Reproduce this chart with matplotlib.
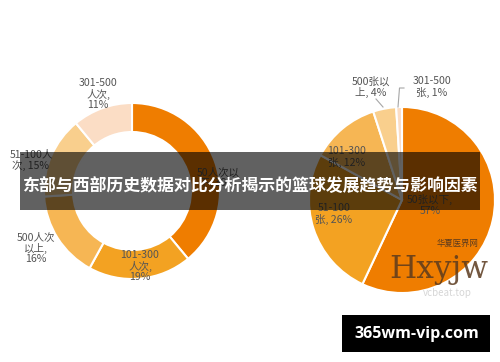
import matplotlib
matplotlib.use("Agg")
import matplotlib.pyplot as plt
from matplotlib.patches import Rectangle

plt.rcParams['font.family'] = ['Noto Sans CJK SC', 'DejaVu Sans']

# left donut: audience size per game (人次)
left_labels = ['50人次以\n下, 39%', '101-300\n人次,\n19%', '500人次\n以上,\n16%',
               '51-100人\n次, 15%', '301-500\n人次,\n11%']
left_values = [39, 19, 16, 15, 11]

# right pie: tickets (张)
right_labels = ['50张以下,\n57%', '51-100\n张, 26%', '101-300\n张, 12%',
                '500张以\n上, 4%', '301-500\n张, 1%']
right_values = [57, 26, 12, 4, 1]

left_colors = ['#EF7D00', '#F3A222', '#F6B654', '#F9CF8D', '#FBDDC5']
right_colors = ['#EF7D00', '#F3A222', '#F6B654', '#F9CF8D', '#FBDDC5']

title = '东部与西部历史数据对比分析揭示的篮球发展趋势与影响因素'
site = '365wm-vip.com'

W, H = 500, 362
fig = plt.figure(figsize=(W / 100, H / 100), dpi=100)
ax = fig.add_axes([0, 0, 1, 1])

def py(y):
    # pixel row -> data y
    return H - y

ax.pie(left_values, colors=left_colors, startangle=90, counterclock=False,
       center=(132, py(191)), radius=88, frame=True,
       wedgeprops=dict(width=29, edgecolor='white', linewidth=1.5))
ax.pie(right_values, colors=right_colors, startangle=90, counterclock=False,
       center=(402, py(200)), radius=93, frame=True,
       wedgeprops=dict(edgecolor='white', linewidth=1.5))

lab = dict(color='#555555', fontsize=7.6, ha='center', va='center', linespacing=1.05)
left_pos = [(218, 178), (140, 266), (36, 248), (31, 160), (98, 94)]
for t, (x, y) in zip(left_labels, left_pos):
    ax.text(x, py(y), t, **lab)
right_pos = [(430, 205), (334, 214), (347, 157), (371, 87), (432, 87)]
for t, (x, y) in zip(right_labels, right_pos):
    ax.text(x, py(y), t, **lab)

# leader lines for the small slices
ax.plot([376, 383], [py(99), py(107)], color='#A6A6A6', lw=0.8)
ax.plot([398, 399.5, 404], [py(107), py(88), py(88)], color='#A6A6A6', lw=0.8)

# watermark
ax.text(389, py(278), 'Hxyjw', fontsize=22.5, family='DejaVu Serif', color='#5B3A1E',
        alpha=0.85, ha='left', va='baseline')
ax.text(458, py(243), '华夏医界网', fontsize=6, color='#5B3A1E', ha='center', va='center')
ax.text(447, py(293), 'vcbeat.top', fontsize=7, color='#BBBBBB', alpha=0.6,
        ha='center', va='center')

# banner
ax.add_patch(Rectangle((20, py(210)), 460, 58, facecolor='black', alpha=0.62,
                       edgecolor='none', zorder=5))
ax.text(250, py(186), title, color='white', fontsize=12.2, fontweight='bold',
        ha='center', va='center', zorder=6)

# bottom site box
ax.add_patch(Rectangle((342, py(352)), 148, 37, facecolor='black', edgecolor='none',
                       zorder=5))
ax.text(417, py(334), site, color='white', fontsize=11.5, fontweight='bold',
        family='Open Sans', ha='center', va='center', zorder=6)

ax.set_xlim(0, W)
ax.set_ylim(0, H)
ax.set_aspect('auto')
ax.axis('off')

fig.savefig('out.png', dpi=100)
